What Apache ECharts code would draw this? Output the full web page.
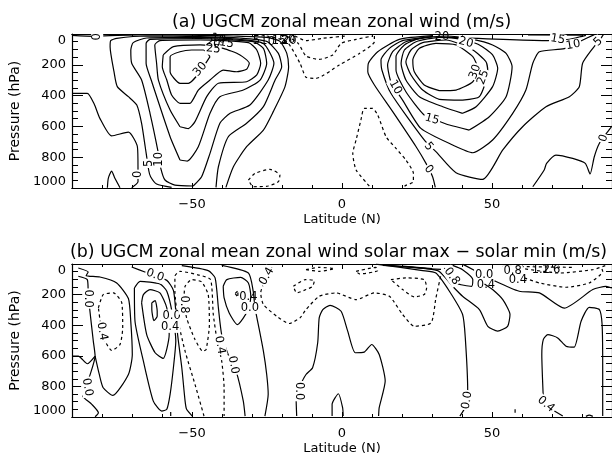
<!DOCTYPE html>
<html><head><meta charset="utf-8">
<style>html,body{margin:0;padding:0;background:#fff}#c{width:612px;height:457px}</style>
<script src="https://cdn.jsdelivr.net/npm/echarts@6/dist/echarts.min.js"></script>
</head><body><div id="c"></div>
<script>
// ---- chart text ----
const titleA = "(a) UGCM zonal mean zonal wind (m/s)";
const titleB = "(b) UGCM zonal mean zonal wind solar max \u2212 solar min (m/s)";
const xName = "Latitude (N)";
const yName = "Pressure (hPa)";
const latLabels = [-50, 0, 50];
const pressureTicks = [0, 200, 400, 600, 800, 1000];

// ---- panel (a) contours: [latitude, pressure] ----
const a0South = [[-90,9],[-82.7,15],[-80.4,13],[-65.1,4],[-47.3,9],[-36.2,13],[-25.1,22],[-20.7,48],[-18.4,126],[-17.8,212],[-19,342],[-22.9,504],[-26.2,624],[-31.8,732],[-36.2,862],[-38.7,996]];
const a0Low = [[-90,385],[-84.9,385],[-82.6,455],[-80.7,548],[-76.8,662],[-71.2,637],[-68.2,732],[-68,872],[-68,959],[-70.1,998]];
const a0Nub = [[-78.2,998],[-77.9,937],[-76.8,890],[-75.7,937],[-74,998]];
const a5South = [[-56.8,996],[-61.8,974],[-63.8,927],[-64.4,888],[-65.6,732],[-66.8,580],[-68.4,461],[-71.2,407],[-74.9,342],[-76,245],[-77.3,82],[-77.1,43],[-75.1,28],[-65.1,13],[-47.3,17],[-34,26],[-25.1,48],[-21.2,126],[-20.1,212],[-22.3,299],[-26.2,472],[-31.8,580],[-37.9,667],[-41.2,862],[-42,996]];
const a10South = [[-49.6,987],[-55.7,981],[-59,948],[-60.4,872],[-61.2,775],[-64,515],[-66.8,299],[-70.1,190],[-70.4,104],[-69.6,56],[-65.1,26],[-47.3,22],[-34,35],[-26.2,61],[-22.7,190],[-24.6,299],[-30.7,461],[-37.3,515],[-40.7,580],[-44,775],[-46.8,927],[-49.6,987]];
const a15South = [[-54,818],[-51.6,825],[-47.9,732],[-44,515],[-40.7,407],[-32.9,364],[-27.3,299],[-25.1,190],[-26.2,93],[-29.6,50],[-47.3,30],[-64,35],[-65.3,61],[-65.3,190],[-63.6,299],[-57.3,667],[-54,818]];
const a20South = [[-54,602],[-51.2,614],[-49,569],[-45.1,407],[-41.2,320],[-31.8,310],[-28.4,266],[-27.1,190],[-28.4,104],[-31.2,56],[-47.3,39],[-60.7,43],[-62.4,71],[-61.8,190],[-61.2,299],[-57.3,494],[-54,602]];
const a25South = [[-59.6,136],[-56.2,82],[-47.3,71],[-39.6,93],[-34,136],[-30.9,190],[-31.8,229],[-35.1,245],[-39.6,234],[-44,299],[-47.9,364],[-50.7,450],[-54,450],[-56.8,396],[-58.4,299],[-59.9,212],[-59.6,136]];
const a30South = [[-44,147],[-51.2,320],[-54,320],[-57.3,245],[-57.3,147],[-54,115],[-50.1,104],[-46.2,104],[-44,147]];
const a0North = [[31.1,996],[30.2,927],[28,840],[24.7,732],[16.9,504],[10.8,331],[8.6,245],[8.8,190],[11.9,115],[19.1,35],[30.2,11]];
const a5North = [[30.2,17],[20.2,43],[15.8,93],[13,169],[13.3,234],[16.3,385],[27.4,688],[31.3,764],[38,901],[46.9,944],[53.6,753],[60.2,602],[68,472],[75.8,407],[79.1,342],[80.2,190],[83.6,93],[86.3,28],[87.1,4]];
const a10North = [[30.2,17],[21.3,50],[16.9,115],[15.2,201],[16.3,310],[20.2,429],[26.3,613],[36.9,721],[43.6,771],[50.2,688],[56.9,515],[61.3,364],[63.6,190],[65.8,115],[74.1,95],[79.1,50],[84.1,4]];
const a15North = [[42.4,624],[35.8,591],[31.9,563],[27.4,526],[21.3,375],[18,234],[18,147],[20.8,71],[25.8,28],[34.7,13],[43.6,35],[50.2,71],[54.7,126],[56.7,212],[54.7,407],[49.1,537],[42.4,624]];
const a15Top = [[32,19],[69,43],[75.8,35],[81.3,9]];
const a15Edge = [[62,6],[80,8]];
const a20North = [[40.2,515],[33.6,472],[25.8,407],[21.3,299],[19.7,190],[20.8,104],[24.7,50],[32.4,22],[40.2,35],[45.8,71],[50.2,136],[51.9,223],[50.2,342],[44.7,472],[40.2,515]];
const a25North = [[40.2,429],[32.4,424],[26.9,364],[23,266],[21.3,180],[23,104],[26.9,56],[34.7,39],[43.6,104],[48,180],[48.6,245],[45.8,407],[40.2,429]];
const a30North = [[32.4,368],[27.4,331],[24.1,245],[23.6,169],[25.8,93],[31.3,61],[38,71],[43.6,147],[45.2,223],[43.6,310],[38,364],[32.4,368]];
const a0Far = [[63.6,992],[67.4,883],[68.2,840],[71.3,786],[76.9,808],[81.1,840],[82.7,909],[84.1,797],[85.8,710],[88.6,634],[90,598]];
const aNeg1 = [[-25.1,13],[-18.4,50],[-14,190],[-12,281],[-8.7,288],[-0.9,201],[5.8,126],[10.8,50],[10.8,6]];
const aNeg2 = [[-18.4,13],[-14.6,61],[-12,143],[-7.6,165],[-3.1,136],[-0.3,61],[4.7,35],[10.2,13]];
const aNeg3 = [[-15.7,13],[-12,43],[-6.4,28],[1.3,13]];
const aNegLoop = [[-31.2,948],[-29,905],[-24,879],[-20.7,916],[-21.2,959],[-24.6,987],[-29.6,992],[-31.2,948]];
const aNegTropic = [[9.1,987],[4.7,883],[3.6,775],[4.7,688],[6.3,559],[7.4,483],[10.2,483],[11.9,526],[14.7,667],[18,743],[21.3,818],[23.8,905],[23.8,959],[21.3,983],[20.2,998]];
const solidA = [a0South,a0Low,a0Nub,a5South,a10South,a15South,a20South,a25South,a30South,a0North,a5North,a10North,a15North,a15Top,a15Edge,a20North,a25North,a30North,a0Far];
const dashedA = [aNeg1,aNeg2,aNeg3,aNegLoop,aNegTropic];
// [lat, pressure, text, rotation, white box]
const labelsA = [
 [-81.6,18,"0",90,1],[-67.9,911,"0",90,1],[-64.3,840,"5",90,1],[-60.9,814,"10",90,1],[-47.3,229,"30",50,1],[-42.9,97,"25",-5,1],
 [-41.2,32,"10",-10,0],[-38.5,60,"15",-10,0],[-43,60,"20",-10,0],[-28.5,45,"5",0,0],[-26,45,"1",0,0],[-23.5,50,"0",0,0],[-21,45,"15",0,0],[-18,42,"20",0,0],[-17.6,44,"20",0,0],
 [28.9,879,"0",-50,1],[28.9,732,"5",-50,1],[17.8,346,"10",-60,1],[30,554,"15",-15,1],[44.4,245,"30",70,1],[47.1,281,"25",70,1],[41.3,56,"20",-15,1],[33.3,22,"20",0,0],[71.9,35,"15",-10,1],[77.1,71,"10",10,1],[85.4,50,"5",45,1],[87.2,678,"0",70,1]
];

// ---- panel (b) contours: [latitude, pressure] ----
const b1 = [[-87.9,26],[-84.6,52],[-85.3,76],[-80.7,85],[-75.1,124],[-71.2,226],[-70.4,378],[-69.9,591],[-71.2,722],[-76.4,859],[-79.6,809],[-80.9,722],[-82.3,602]];
const b2 = [[-87.9,80],[-84.9,102],[-84.6,178],[-84.2,276],[-82.9,504],[-82.3,602],[-84.6,765],[-85.1,841],[-86.4,863],[-83.4,917],[-81.2,972],[-82.3,998]];
const b3 = [[-82.3,602],[-84.9,652],[-87.9,602],[-90,602]];
const b4 = [[-70.1,20],[-65.7,52],[-58.4,107],[-56.2,172],[-55.4,309],[-54.8,461],[-53.4,678],[-52.3,896],[-51.8,950],[-49.9,994]];
const b5 = [[-69.2,157],[-69,374],[-66.2,635],[-62.9,896],[-60.1,961],[-58.4,950],[-57.3,852],[-56.2,678],[-55.4,504],[-56.6,320],[-58.4,178],[-60.7,130],[-67.3,113],[-69.2,157]];
const b6 = [[-66.8,254],[-66.2,200],[-64,167],[-60.7,189],[-58.4,287],[-57.6,461],[-59.6,617],[-62.3,580],[-65.1,461],[-66.8,254]];
const b7 = [[-63.4,254],[-62.3,239],[-61.6,309],[-61.6,341],[-62.7,370],[-63.4,298],[-63.4,254]];
const b8 = [[-53.4,11],[-44.6,43],[-42.3,91],[-41.2,287],[-40.1,461],[-37.3,624],[-35.3,700],[-32.9,896],[-32.3,994]];
const b9 = [[-40.1,9],[-31.2,59],[-29.6,178],[-29,287],[-27.9,396],[-26.2,570],[-25.1,722],[-24.6,852],[-25.7,994]];
const b10 = [[-39.6,146],[-38.4,102],[-33.8,87],[-31.2,124],[-30.4,211],[-31.2,298],[-34.9,396],[-37.6,320],[-39.3,222],[-39.6,146]];
const b11 = [[-15.1,994],[-15.3,874],[-14,798],[-12,722],[-9.8,678],[-8.1,515],[-7.6,352],[-6.4,298],[-4,270],[-0.3,309],[1.9,439],[4.4,580],[7.4,576],[9.9,526],[12.4,591],[14.4,765],[12.4,939],[12.2,994]];
const b12 = [[-3.3,994],[-3.3,917],[-1.2,848],[0.2,939],[0.4,994]];
const b13 = [[11.3,1],[26.9,43],[31.3,59],[35.8,178],[40.2,330],[41.1,483],[41.9,830],[41.3,928],[39.3,994]];
const b14 = [[13.6,9],[31.9,43],[36.9,146],[40.2,211],[45.8,298],[48.6,407],[51.9,439],[55.2,407],[56,330],[53.6,233],[50.2,167],[47.5,130]];
const b15 = [[34.1,26],[38,124],[43.2,146],[43.6,102],[40.2,37],[36.9,9]];
const b16 = [[50.8,109],[59.1,178],[65.8,189],[74.1,289],[83.6,167],[88,146],[90,157]];
const b17 = [[67.1,874],[66.6,591],[67.1,494],[68.6,461],[71.9,483],[74.7,537],[77.4,543],[79.7,374],[82.4,283],[85.8,298],[86.7,396],[86.9,678],[86.9,994]];
const b18 = [[70.8,961],[73.6,994]];
const b19 = [[40.2,1],[45.8,59]];
const b20 = [[81.3,996],[82.4,988],[83.6,996]];
const b21 = [[-57.1,967],[-57.1,994]];
const b22 = [[57.7,950],[57.7,972]];
const b23 = [[14,6],[28,30],[33,35]];
const b24 = [[20,14],[30,30]];
const bNeg1 = [[-46,994],[-49,787],[-52.3,570],[-54.6,374],[-55.7,178],[-55.7,80],[-54,48],[-47.3,74],[-43.8,102],[-42.9,330],[-41.6,504],[-40.1,635],[-39.3,809],[-39.3,994]];
const bNeg2 = [[-52.7,233],[-52.3,146],[-50.1,102],[-46.8,117],[-44.6,200],[-44.2,396],[-45.3,559],[-46.4,570],[-49,494],[-51.8,352],[-52.7,233]];
const bNeg3 = [[-81.2,287],[-79.6,200],[-76.2,189],[-73.4,254],[-73.1,417],[-74,526],[-76.8,565],[-79,504],[-80.1,439],[-81.2,287]];
const bNeg4 = [[-23.4,22],[-27.1,189],[-26.2,265],[-21.8,341],[-17.6,389],[-14,352],[-12,298],[-7.6,211],[-2,189],[4.7,233],[10.8,189],[15.8,211],[20.2,330],[24.1,407],[29.7,385],[31.3,222],[33,70]];
const bNeg5 = [[-16.2,146],[-12.2,102],[-9.2,109],[-9.8,146],[-12,167],[-15.1,189],[-16.2,146]];
const bNeg6 = [[16.3,102],[21.3,91],[27.4,102],[28.2,157],[27.4,200],[24.1,215],[20.2,167],[16.3,102]];
const bNeg7 = [[-12,37],[-7.6,22],[-2.6,30],[-7.6,48],[-12,37]];
const bNeg8 = [[4.7,48],[11.3,22],[11.9,43],[5.8,65],[4.7,48]];
const bNeg9 = [[60.8,91],[65.8,124],[74.7,152],[82.4,124],[86.9,48],[86.3,15]];
const bNeg10 = [[59.1,26],[72.4,59],[83.6,37],[88,9]];
const bNeg11 = [[53.6,15],[76.9,22]];
const bNeg12 = [[-35.6,193],[-34.7,174],[-34.7,217],[-35.6,193]];
const solidB = [b1,b2,b3,b4,b5,b6,b7,b8,b9,b10,b11,b12,b13,b14,b15,b16,b17,b18,b19,b20,b21,b22,b23,b24];
const dashedB = [bNeg1,bNeg2,bNeg3,bNeg4,bNeg5,bNeg6,bNeg7,bNeg8,bNeg9,bNeg10,bNeg11,bNeg12];
const labelsB = [
 [-84.6,226,"0.0",-90,1],[-84.9,805,"0.0",-80,1],[-80,440,"0.4",-80,1],[-62.3,74,"0.0",-20,1],[-56.8,337,"0.0",0,1],[-57.3,411,"0.4",0,1],[-52.6,265,"0.8",-90,1],
 [-36.2,660,"0.0",-80,1],[-40.7,530,"0.4",-80,1],[-30.7,287,"0.0",0,1],[-31.2,215,"0.4",0,0],[-25.1,80,"0.4",60,1],[-14.2,831,"0.0",-90,1],
 [41.7,891,"0.0",80,1],[36.6,80,"0.8",-55,1],[47.4,70,"0.0",0,1],[48,139,"0.4",0,0],[56.9,48,"0.8",0,1],[58.6,102,"0.4",0,0],[66.3,37,"1.2",0,0],[69.7,37,"1.6",0,0],[68,917,"0.4",-40,1]
];

const FONT = "DejaVu Sans";
const chart = echarts.init(document.getElementById('c'), null, {renderer:'canvas'});
const axisLine = {show:true, onZero:false, lineStyle:{color:'#000', width:1.2}};

function xAxes(gridIndex){
  const base = {type:'value', gridIndex, min:-90, max:90, axisLine, splitLine:{show:false}};
  return [
    {...base, position:'bottom', interval:10, name:xName, nameLocation:'middle', nameGap:25,
     nameTextStyle:{color:'#000', fontFamily:FONT, fontSize:13},
     axisTick:{show:true, inside:true, length:5, customValues:latLabels, lineStyle:{color:'#000'}},
     axisLabel:{show:true, customValues:latLabels, color:'#000', fontFamily:FONT, fontSize:13, margin:10,
       formatter:v=>v<0?'\u2212'+(-v):String(v)}},
    {...base, position:'top', interval:10,
     axisTick:{show:true, inside:true, length:5, customValues:latLabels, lineStyle:{color:'#000'}}, axisLabel:{show:false}},
    {...base, position:'bottom', interval:10, axisTick:{show:true, inside:true, length:3, lineStyle:{color:'#000'}}, axisLabel:{show:false}},
    {...base, position:'top', interval:10, axisTick:{show:true, inside:true, length:3, lineStyle:{color:'#000'}}, axisLabel:{show:false}}
  ];
}
function yAxes(gridIndex){
  const base = {type:'value', gridIndex, min:0, max:1000, interval:200, inverse:true, axisLine, splitLine:{show:false},
    axisTick:{show:true, inside:true, length:11, lineStyle:{color:'#000'}},
    minorTick:{show:true, splitNumber:4, length:6, lineStyle:{color:'#000'}}};
  return [
    {...base, position:'left', name:yName, nameLocation:'middle', nameGap:40, nameRotate:90,
     nameTextStyle:{color:'#000', fontFamily:FONT, fontSize:14},
     axisLabel:{show:true, customValues:pressureTicks, color:'#000', fontFamily:FONT, fontSize:13, margin:6,
       verticalAlignMinLabel:'top', verticalAlignMaxLabel:'bottom', formatter:v=>String(v)}},
    {...base, position:'right', axisLabel:{show:false}}
  ];
}
function lineSeries(arr, panel, dashed){
  return arr.map(d=>({type:'line', xAxisIndex:panel*4, yAxisIndex:panel*2, data:d, symbol:'none', smooth:0.2,
    silent:true, animation:false, z:3, clip:true,
    lineStyle:{color:'#000', width:1.2, type:dashed?[3,3]:'solid'}}));
}
function labelSeries(arr, panel){
  return {type:'scatter', xAxisIndex:panel*4, yAxisIndex:panel*2, symbolSize:1, silent:true, animation:false, z:6,
    itemStyle:{color:'transparent', opacity:1},
    data:arr.map(l=>({value:[l[0],l[1]], label:{show:true, position:'inside', formatter:l[2], rotate:l[3],
      color:'#000', opacity:1, fontFamily:FONT, fontSize:11.5,
      backgroundColor:l[4]?'#fff':'transparent', padding:l[4]?[0,1]:0}}))};
}
chart.setOption({
  animation:false, backgroundColor:'#fff',
  title:[
    {text:titleA, left:172, top:14, padding:0, textStyle:{color:'#000', fontFamily:FONT, fontSize:17.4, fontWeight:'normal'}},
    {text:titleB, left:70, top:244, padding:0, textStyle:{color:'#000', fontFamily:FONT, fontSize:17.4, fontWeight:'normal'}}
  ],
  grid:[
    {left:72, top:34, width:540, height:154, containLabel:false, outerBoundsMode:'none'},
    {left:72, top:264, width:540, height:153, containLabel:false, outerBoundsMode:'none'}
  ],
  xAxis:[...xAxes(0), ...xAxes(1)],
  yAxis:[...yAxes(0), ...yAxes(1)],
  series:[
    ...lineSeries(solidA,0,false), ...lineSeries(dashedA,0,true), labelSeries(labelsA,0),
    ...lineSeries(solidB,1,false), ...lineSeries(dashedB,1,true), labelSeries(labelsB,1)
  ]
});
</script></body></html>
